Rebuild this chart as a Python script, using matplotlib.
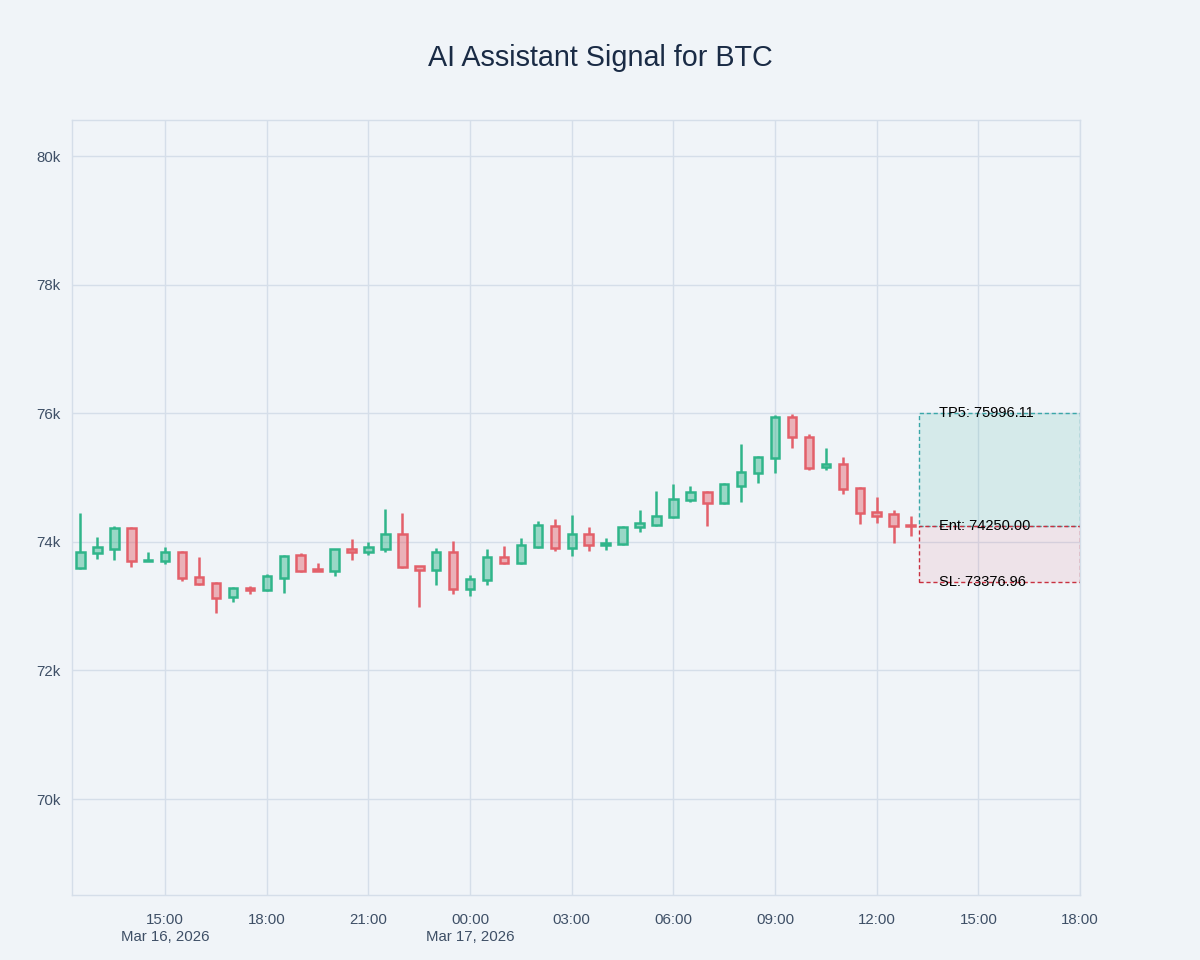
import matplotlib
matplotlib.use("Agg")
import matplotlib.pyplot as plt
import matplotlib.dates as mdates
import pandas as pd
import numpy as np

plt.rcParams['font.family'] = ['Liberation Sans', 'DejaVu Sans']

times = pd.date_range("2026-03-16 12:30", periods=50, freq="30min")
opens = [73593, 73826, 73888, 74215, 73705, 73701, 73841, 73453, 73359, 73142,
         73280, 73250, 73437, 73795, 73577, 73546, 73888, 73841, 73888, 74121,
         73624, 73561, 73841, 73266, 73406, 73764, 73670, 73919, 74246, 73904,
         74121, 73950, 73966, 74230, 74261, 74386, 74650, 74775, 74603, 74868,
         75070, 75303, 75941, 75630, 75163, 75210, 74837, 74463, 74432, 74260]
highs = [74448, 74075, 74246, 74230, 73841, 73919, 73857, 73764, 73370, 73290,
         73313, 73499, 73790, 73826, 73670, 73895, 74044, 73997, 74510, 74448,
         73630, 73903, 74012, 73484, 73888, 73935, 74059, 74324, 74355, 74417,
         74230, 74059, 74245, 74495, 74790, 74899, 74868, 74790, 74910, 75521,
         75330, 75972, 75988, 75677, 75459, 75319, 74850, 74697, 74495, 74401]
lows = [73580, 73733, 73717, 73608, 73700, 73655, 73390, 73330, 72893, 73064,
        73188, 73240, 73204, 73530, 73540, 73468, 73717, 73795, 73841, 73595,
        72986, 73328, 73188, 73157, 73328, 73660, 73655, 73905, 73857, 73779,
        73857, 73873, 73955, 74153, 74250, 74375, 74619, 74246, 74595, 74619,
        74915, 75070, 75459, 75117, 75117, 74743, 74277, 74292, 73981, 74090]
closes = [73841, 73919, 74215, 73701, 73720, 73841, 73437, 73344, 73126, 73282,
          73250, 73468, 73779, 73546, 73546, 73888, 73841, 73919, 74121, 73608,
          73561, 73841, 73266, 73422, 73764, 73670, 73950, 74261, 73904, 74121,
          73950, 73981, 74230, 74292, 74401, 74666, 74775, 74603, 74899, 75086,
          75319, 75941, 75630, 75148, 75210, 74821, 74448, 74401, 74246, 74250]

entry_price = 74250.00
tp5_price = 75996.11
sl_price = 73376.96
zone_start = pd.Timestamp("2026-03-17 13:15")
zone_end = pd.Timestamp("2026-03-17 18:00")

x_min = pd.Timestamp("2026-03-16 12:15")
x_max = pd.Timestamp("2026-03-17 18:00")
y_min, y_max = 68507, 80560
y_ticks = [70000, 72000, 74000, 76000, 78000, 80000]
y_labels = ["70k", "72k", "74k", "76k", "78k", "80k"]
x_ticks = pd.date_range("2026-03-16 15:00", "2026-03-17 18:00", freq="3h")

bg = "#f0f4f8"
grid_c = "#d5dee9"
tick_c = "#3e4f66"
green = "#30b58a"
red = "#e3606a"

fig = plt.figure(figsize=(12, 9.6), dpi=100, facecolor=bg)
ax = fig.add_axes([0.06, 1 - 895 / 960, 0.84, (895 - 120) / 960])
ax.set_facecolor(bg)

xn = mdates.date2num(times)
body_w = 8.5 / 33.89 / 24
lw = 1.8
for x, o, h, l, c in zip(xn, opens, highs, lows, closes):
    col = green if c >= o else red
    top, bot = max(o, c), min(o, c)
    ax.plot([x, x], [top, h], color=col, lw=lw, solid_capstyle='butt', zorder=3)
    ax.plot([x, x], [l, bot], color=col, lw=lw, solid_capstyle='butt', zorder=3)
    hgt = max(top - bot, 8)
    ax.add_patch(plt.Rectangle((x - body_w / 2, bot), body_w, hgt,
                               facecolor=col, alpha=0.45, edgecolor='none', zorder=3))
    ax.add_patch(plt.Rectangle((x - body_w / 2, bot), body_w, hgt,
                               facecolor='none', edgecolor=col, lw=lw, zorder=4))

zs, ze = mdates.date2num(zone_start), mdates.date2num(zone_end)
ax.add_patch(plt.Rectangle((zs, entry_price), ze - zs, tp5_price - entry_price,
                           facecolor=(0.1, 0.66, 0.55, 0.12), edgecolor='#3aa7a8',
                           lw=1.0, linestyle=(0, (3, 2)), zorder=2))
ax.add_patch(plt.Rectangle((zs, sl_price), ze - zs, entry_price - sl_price,
                           facecolor=(0.88, 0.25, 0.35, 0.09), edgecolor='#c8303f',
                           lw=1.0, linestyle=(0, (3, 2)), zorder=2))

for price, label in [(tp5_price, f"TP5: {tp5_price:.2f}"),
                     (entry_price, f"Ent: {entry_price:.2f}"),
                     (sl_price, f"SL: {sl_price:.2f}")]:
    ax.annotate(label, xy=(zs, price), xytext=(14.5, 0), textcoords='offset points',
                ha='left', va='center', fontsize=10.5, color='black', zorder=5)

ax.set_xlim(mdates.date2num(x_min), mdates.date2num(x_max))
ax.set_ylim(y_min, y_max)
ax.set_yticks(y_ticks)
ax.set_yticklabels(y_labels)

xlabels = []
for t in x_ticks:
    s = t.strftime("%H:%M")
    if t == x_ticks[0] or (t.hour == 0 and t.minute == 0):
        s += "\n" + t.strftime("%b %-d, %Y")
    xlabels.append(s)
ax.set_xticks(mdates.date2num(x_ticks))
ax.set_xticklabels(xlabels, linespacing=1.3)

ax.grid(True, color=grid_c, lw=1.0, zorder=0)
ax.set_axisbelow(True)
ax.tick_params(axis='both', length=0, labelsize=10.8, colors=tick_c)
ax.tick_params(axis='x', pad=13)
ax.tick_params(axis='y', pad=8.5)
for s in ax.spines.values():
    s.set_color(grid_c)
    s.set_linewidth(1.0)

fig.text(0.5, 1 - 58 / 960, "AI Assistant Signal for BTC", ha='center', va='center',
         fontsize=20.7, color='#1a2b45')

fig.savefig("out.png", dpi=100, facecolor=bg)
